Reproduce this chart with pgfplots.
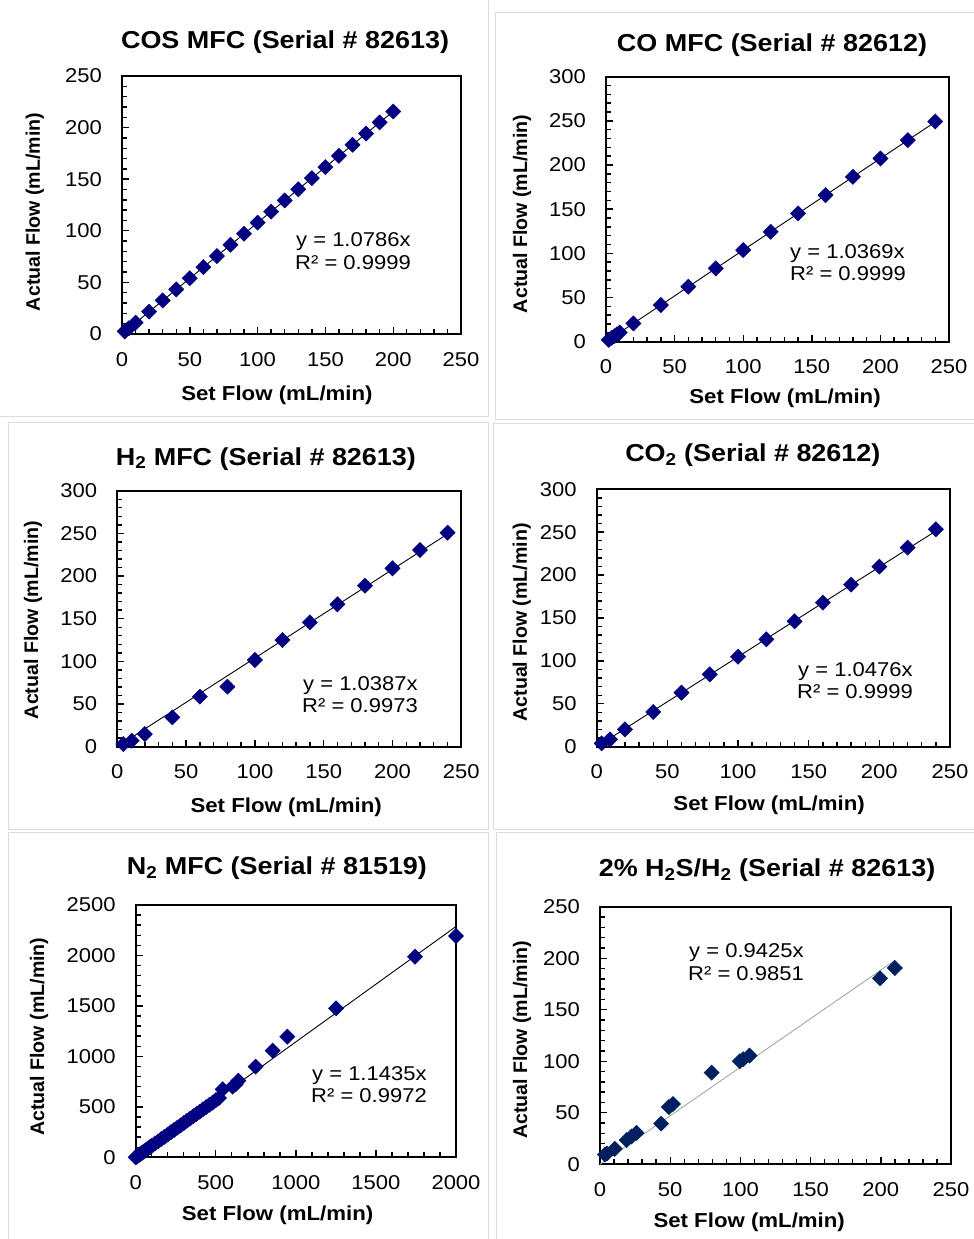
\documentclass[border=0pt]{standalone}
\usepackage{fontspec}
\setmainfont{Liberation Sans}[FakeStretch=1.1]
\newfontfamily\ylabfont{Liberation Sans}
\usepackage{pgfplots}
\pgfplotsset{compat=1.18}

\definecolor{navy}{RGB}{0,0,128}
\definecolor{darkslate}{RGB}{0,32,96}
\definecolor{trendgray}{RGB}{165,165,165}
\definecolor{framegray}{RGB}{220,220,220}

\pgfplotsset{
  every axis title shift=0pt,
  mfc/.style={
    scale only axis, anchor=south west, clip=false,
    xmin=0, ymin=0,
    tick align=inside, tick pos=left,
    minor tick num=4,
    major tick length=7pt, minor tick length=5pt,
    every tick/.style={black, line width=1.4pt},
    axis line style={line width=1.8pt},
    tick label style={font=\fontsize{20}{24}\selectfont},
    /pgf/number format/assume math mode=true,
    /pgf/number format/1000 sep={},
    xticklabel style={anchor=north, inner sep=0pt, yshift=-18pt},
    yticklabel style={anchor=east, inner sep=0pt, xshift=-20pt},
    title style={font=\bfseries\fontsize{24.5}{28}\selectfont, anchor=base},
    xlabel style={font=\bfseries\fontsize{20.2}{24}\selectfont, anchor=center},
    ylabel style={font=\ylabfont\bfseries\fontsize{19.6}{23}\selectfont, anchor=center},
    xlabel={Set Flow (mL/min)},
    ylabel={Actual Flow (mL/min)},
  },
  pts/.style={only marks, mark=square*, mark size=5.4pt,
    mark options={rotate=45, fill=#1, draw=#1}},
  trend/.style={black, line width=0.9pt, no markers},
}

\begin{document}
\begin{tikzpicture}
\useasboundingbox (0,0) rectangle (974pt,1239pt);

% chart area frames
\draw[framegray, line width=1pt] (-5pt,822pt) rectangle (488pt,1245pt);
\draw[framegray, line width=1pt] (495pt,819pt) rectangle (980pt,1226pt);
\draw[framegray, line width=1pt] (8pt,409pt) rectangle (488pt,816pt);
\draw[framegray, line width=1pt] (493pt,409pt) rectangle (980pt,815pt);
\draw[framegray, line width=1pt] (8pt,-5pt) rectangle (488pt,406pt);
\draw[framegray, line width=1pt] (496pt,-5pt) rectangle (980pt,406pt);

% COS
\begin{axis}[mfc, at={(122pt,905pt)}, width=339pt, height=258pt,
  xmax=250, ymax=250, xtick={0,50,...,250}, ytick={0,50,...,250},
  title={COS MFC (Serial \# 82613)},
  title style={at={(axis description cs:0.481,1.105)}},
  xlabel style={at={(axis description cs:0.457,-0.236)}},
  ylabel style={at={(axis description cs:-0.257,0.473)}}]
\addplot[pts=navy] coordinates {
  (2,2.5) (5,5.5) (10,11) (20,21.6) (30,32.5) (40,43.2) (50,54.0)
  (60,64.8) (70,75.5) (80,86.4) (90,97.1) (100,107.9) (110,118.6)
  (120,129.4) (130,140.2) (140,151.0) (150,161.7) (160,172.6)
  (170,183.3) (180,194.2) (190,205.0) (200,215.6)};
\addplot[trend] coordinates {(0,0) (200,215.72)};
\end{axis}
\node[anchor=base west, inner sep=0pt, font=\fontsize{20}{24}\selectfont] at (296pt,992pt) {y = 1.0786x};
\node[anchor=base west, inner sep=0pt, font=\fontsize{20}{24}\selectfont] at (295pt,969pt) {R² = 0.9999};

% CO
\begin{axis}[mfc, at={(606pt,897.3pt)}, width=343pt, height=265pt,
  xmax=250, ymax=300, xtick={0,50,...,250}, ytick={0,50,...,300},
  title={CO MFC (Serial \# 82612)},
  title style={at={(axis description cs:0.484,1.094)}},
  xlabel style={at={(axis description cs:0.522,-0.212)}},
  ylabel style={at={(axis description cs:-0.245,0.482)}}]
\addplot[pts=navy] coordinates {
  (2,2.1) (4,4.1) (6,6.2) (8,8.3) (10,10.4) (20,20.7) (40,41.5)
  (60,62.2) (80,83.0) (100,103.7) (120,124.4) (140,145.2) (160,165.9)
  (180,186.6) (200,207.4) (220,228.1) (240,249.3)};
\addplot[trend] coordinates {(0,0) (240,248.86)};
\end{axis}
\node[anchor=base west, inner sep=0pt, font=\fontsize{20}{24}\selectfont] at (790pt,980pt) {y = 1.0369x};
\node[anchor=base west, inner sep=0pt, font=\fontsize{20}{24}\selectfont] at (790pt,958pt) {R² = 0.9999};

% H2
\begin{axis}[mfc, at={(117.3pt,492.3pt)}, width=344pt, height=256pt,
  xmax=250, ymax=300, xtick={0,50,...,250}, ytick={0,50,...,300},
  title={H\textsubscript{2} MFC (Serial \# 82613)},
  title style={at={(axis description cs:0.432,1.100)}},
  xlabel style={at={(axis description cs:0.491,-0.236)}},
  ylabel style={at={(axis description cs:-0.245,0.495)}}]
\addplot[pts=navy] coordinates {
  (4.4,3.1) (10.5,7) (20,14.8) (40,34.4) (60,58.6) (80,70.3) (100,101.6)
  (120,125) (140,145.7) (160,166.8) (180,188.7) (200,209) (220,230.5)
  (240,250.8)};
\addplot[trend] coordinates {(0,0) (240,249.29)};
\end{axis}
\node[anchor=base west, inner sep=0pt, font=\fontsize{20}{24}\selectfont] at (303pt,548pt) {y = 1.0387x};
\node[anchor=base west, inner sep=0pt, font=\fontsize{20}{24}\selectfont] at (302pt,526pt) {R² = 0.9973};

% CO2
\begin{axis}[mfc, at={(596.7pt,492.3pt)}, width=353.3pt, height=257.4pt,
  xmax=250, ymax=300, xtick={0,50,...,250}, ytick={0,50,...,300},
  title={CO\textsubscript{2} (Serial \# 82612)},
  title style={at={(axis description cs:0.442,1.107)}},
  xlabel style={at={(axis description cs:0.488,-0.226)}},
  ylabel style={at={(axis description cs:-0.212,0.483)}}]
\addplot[pts=navy] coordinates {
  (3.5,3.9) (9.4,8.5) (20,20.2) (40,40.4) (60,63) (80,84.3) (100,104.9)
  (120,125.1) (140,146.1) (160,167.9) (180,188.9) (200,209.9)
  (220,232) (240,253.4)};
\addplot[trend] coordinates {(0,0) (240,251.42)};
\end{axis}
\node[anchor=base west, inner sep=0pt, font=\fontsize{20}{24}\selectfont] at (798pt,562pt) {y = 1.0476x};
\node[anchor=base west, inner sep=0pt, font=\fontsize{20}{24}\selectfont] at (797pt,540pt) {R² = 0.9999};

% N2
\begin{axis}[mfc, at={(135.7pt,81.7pt)}, width=320.3pt, height=252.3pt,
  xmax=2000, ymax=2500, xtick={0,500,...,2000}, ytick={0,500,...,2500},
  title={N\textsubscript{2} MFC (Serial \# 81519)},
  title style={at={(axis description cs:0.441,1.119)}},
  xlabel style={at={(axis description cs:0.443,-0.229)}},
  ylabel style={at={(axis description cs:-0.302,0.478)}}]
\addplot[pts=navy] coordinates {
  (0,0) (5,6) (10,11) (20,22) (30,34) (40,45) (50,56) (60,68) (70,79)
  (80,90) (90,102) (100,113) (120,136) (140,158) (160,181) (180,203)
  (200,226) (220,249) (240,271) (260,294) (280,316) (300,339)
  (320,362) (340,384) (360,407) (380,429) (400,452) (420,475)
  (440,497) (460,520) (480,542) (500,565) (520,588)
  (543,674) (605,700) (625,725) (641,760) (749,898) (855,1057)
  (947,1195) (1251,1476) (1744,1988) (2000,2193)};
\addplot[trend] coordinates {(0,0) (2000,2287)};
\end{axis}
\node[anchor=base west, inner sep=0pt, font=\fontsize{20}{24}\selectfont] at (312pt,158.5pt) {y = 1.1435x};
\node[anchor=base west, inner sep=0pt, font=\fontsize{20}{24}\selectfont] at (311pt,136pt) {R² = 0.9972};

% 2% H2S/H2
\begin{axis}[mfc, at={(600pt,74.7pt)}, width=351pt, height=257.6pt,
  xmax=250, ymax=250, xtick={0,50,...,250}, ytick={0,50,...,250},
  title={2\% H\textsubscript{2}S/H\textsubscript{2} (Serial \# 82613)},
  title style={at={(axis description cs:0.476,1.116)}},
  xlabel style={at={(axis description cs:0.425,-0.224)}},
  ylabel style={at={(axis description cs:-0.222,0.483)}}]
\addplot[pts=darkslate] coordinates {
  (3.5,9.5) (5,10.5) (10.5,15) (19,23.5) (22.5,27) (26,30.5)
  (43.5,39.5) (49,55.5) (52,58.5) (79.5,89) (99.5,100) (102,102)
  (106.5,105.5) (199.5,180.5) (210,190.5)};
\addplot[trendgray, line width=0.9pt, no markers] coordinates {(0,0) (210,197.9)};
\end{axis}
\node[anchor=base west, inner sep=0pt, font=\fontsize{20}{24}\selectfont] at (689pt,281pt) {y = 0.9425x};
\node[anchor=base west, inner sep=0pt, font=\fontsize{20}{24}\selectfont] at (688pt,258.5pt) {R² = 0.9851};
\end{tikzpicture}
\end{document}
